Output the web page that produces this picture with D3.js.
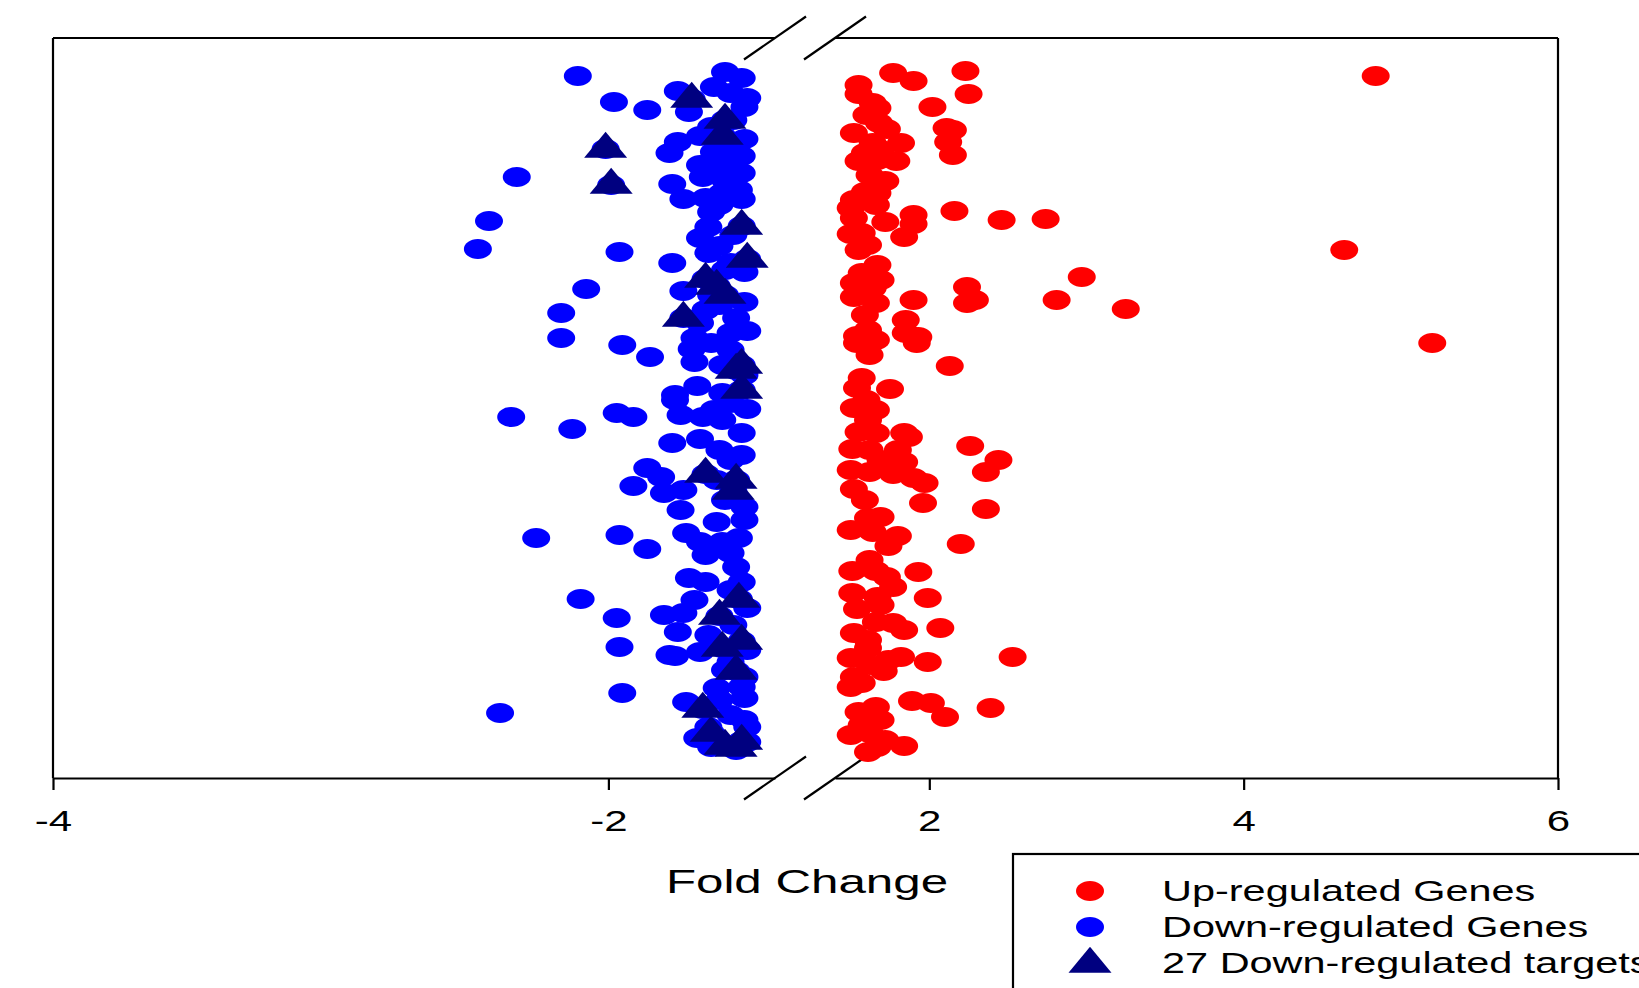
<!DOCTYPE html>
<html><head><meta charset="utf-8">
<script src="https://cdn.jsdelivr.net/npm/d3@7"></script>
<style>html,body{margin:0;padding:0;background:#fff;overflow:hidden}</style>
</head><body>
<script>
// ---- data (fold change, vertical position) ----
const upFC = [1.55,1.55,1.77,1.90,2.23,2.25,2.02,1.64,1.67,1.68,
1.73,1.52,1.82,1.64,1.59,1.55,1.79,1.67,2.11,2.15,
2.12,2.15,1.72,1.59,1.67,1.52,1.50,1.66,1.52,1.72,
1.90,1.90,1.84,1.50,1.57,1.55,2.16,2.46,2.74,4.84,
4.64,1.67,1.57,1.52,1.64,1.52,1.66,1.90,2.24,2.29,
2.24,2.97,2.81,3.25,1.85,1.54,1.61,1.66,1.54,1.85,
1.93,1.92,5.20,2.13,1.57,1.54,1.75,1.52,1.66,1.61,
1.55,1.66,1.84,1.87,2.26,1.51,1.62,1.80,1.84,2.44,
2.36,1.50,1.62,1.77,1.90,1.97,1.52,1.96,2.36,1.61,
1.69,1.50,1.64,1.80,1.74,2.20,1.51,1.66,1.73,1.77,
1.93,1.51,1.67,1.99,1.54,1.66,1.77,1.84,2.07,1.52,
1.61,1.61,1.50,1.74,1.82,1.99,2.53,1.71,1.52,1.57,
1.50,1.89,2.01,2.10,2.39,1.55,1.66,1.57,1.50,1.62,
1.72,1.84,1.61,1.67,1.60,1.69,1.62,1.61,1.69,1.59,
1.62,1.60,1.69,1.59,1.62,1.69,1.62,1.69];
const upY = [47,56,35,43,33,56,69,65,70,85,
91,95,105,105,115,123,123,122,90,92,
104,117,143,154,155,162,170,167,180,184,
177,186,199,196,195,212,173,182,181,38,
212,227,235,245,250,259,265,262,249,262,
265,239,262,271,282,298,292,302,305,295,
299,305,305,328,340,350,351,370,372,382,
394,395,395,399,408,411,412,412,424,422,
434,432,434,436,440,445,451,465,471,480,
479,492,494,498,508,506,533,533,539,549,
534,555,559,560,571,584,585,592,590,595,
602,610,620,622,619,624,619,633,639,645,
649,663,665,679,670,674,669,687,697,695,
702,708,714,709,77,112,137,207,242,277,
317,362,422,462,522,567,627,682];

const downFC = [-2.11,-1.98,-1.86,-1.75,-1.71,-2.33,-2.43,-2.47,-1.96,-1.77,
-2.08,-2.17,-2.17,-1.95,-1.85,-1.75,-1.78,-1.77,-1.73,-1.76,
-1.68,-1.58,-1.52,-1.62,-1.50,-1.51,-1.56,-1.63,-1.67,-1.51,
-1.62,-1.52,-1.67,-1.52,-1.66,-1.59,-1.58,-1.65,-1.52,-1.59,
-1.63,-1.64,-1.67,-1.60,-1.64,-1.51,-1.56,-1.73,-1.63,-1.51,
-1.65,-1.67,-1.54,-1.50,-1.56,-1.69,-1.63,-1.70,-1.69,-1.59,
-1.59,-1.76,-2.35,-2.13,-1.97,-1.91,-1.74,-1.66,-1.59,-1.50,
-1.56,-1.77,-1.67,-1.52,-1.60,-1.52,-1.86,-1.81,-1.91,-1.80,
-1.73,-1.74,-1.51,-1.61,-2.26,-1.96,-1.86,-1.61,-1.72,-1.67,
-1.59,-1.53,-1.65,-1.56,-1.54,-1.71,-1.65,-1.52,-1.69,-1.50,
-2.10,-1.97,-1.80,-1.73,-1.75,-1.96,-1.78,-1.67,-1.64,-1.50,
-1.56,-1.51,-1.61,-1.52,-1.51,-1.95,-2.39,-1.72,-1.56,-1.50,
-1.64,-1.68,-1.63,-1.54,-1.50,-1.76,-1.55,-1.56,-1.53,-1.60,
-1.55,-1.58,-1.60,-1.56,-1.51,-1.62,-1.56,-1.58,-1.51,-1.56,
-1.55,-1.58,-1.60,-1.51];
const downY = [38,64,72,53,74,139,183,211,214,225,
251,275,300,307,319,104,115,146,161,357,
348,34,40,49,60,69,55,89,98,101,
114,118,127,135,139,129,142,160,161,155,
174,189,200,208,215,234,225,253,257,264,
272,285,280,293,295,300,305,311,324,327,
355,362,379,391,375,379,377,379,382,371,
365,405,401,395,412,417,430,439,448,455,
452,472,469,442,500,497,511,484,495,504,
504,500,517,515,529,540,544,544,562,570,
561,580,577,575,594,609,617,614,597,612,
624,639,650,649,660,655,675,664,677,689,
689,700,709,712,704,618,82,112,152,167,
197,232,267,312,337,372,422,462,482,552,
587,632,662,682];

const targetFC = [-1.70,-1.58,-1.59,-2.01,-1.99,-1.52,-1.50,-1.65,-1.58,-1.61,-1.73,-1.52,-1.54,-1.52,
-1.65,-1.54,-1.55,-1.53,-1.60,-1.52,-1.59,-1.54,-1.66,-1.63,-1.52,-1.54,-1.58];
const targetY = [61,82,98,111,147,188,221,241,257,248,280,327,332,352,
436,442,453,561,578,603,610,633,671,695,703,710,708];

const leftTicks = [-4, -2];
const rightTicks = [2, 4, 6];
const legendLabels = ["Up-regulated Genes", "Down-regulated Genes", "27 Down-regulated targets"];
const xTitle = "Fold Change";

// ---- drawing ----
const W = 1639, H = 988, SX = 1.45;
const FONT = "'Liberation Sans', Arial, Helvetica, sans-serif";
const RED = "#ff0000", BLUE = "#0000ff", NAVY = "#000080";
const svg = d3.select("body").append("svg").attr("width", W).attr("height", H)
  .style("display","block");

const xL = d3.scaleLinear().domain([-4, -1.4]).range([53, 775]);
const xR = d3.scaleLinear().domain([1.4, 6]).range([835, 1558]);
const y = d3.scaleLinear().domain([0, 740]).range([38, 778]);
const yTop = y.range()[0], yBot = y.range()[1];
const LW = 2.2;

// frame
const frame = svg.append("g").attr("stroke", "#000").attr("stroke-width", LW).attr("fill", "none");
frame.append("line").attr("x1", xL.range()[0]).attr("x2", xL.range()[1]).attr("y1", yTop).attr("y2", yTop);
frame.append("line").attr("x1", xR.range()[0]).attr("x2", xR.range()[1]).attr("y1", yTop).attr("y2", yTop);
frame.append("line").attr("x1", xL.range()[0]).attr("x2", xL.range()[0]).attr("y1", yTop).attr("y2", yBot);
frame.append("line").attr("x1", xR.range()[1]).attr("x2", xR.range()[1]).attr("y1", yTop).attr("y2", yBot);

// axes
function styleAxis(g) {
  g.select(".domain").attr("stroke", "#000").attr("stroke-width", LW);
  g.selectAll(".tick line").attr("stroke", "#000").attr("stroke-width", LW);
  g.selectAll(".tick text")
    .attr("y", 0).attr("dy", 0)
    .attr("transform", `translate(0,53) scale(${SX},1)`)
    .attr("font-size", 29).attr("font-family", FONT).attr("fill", "#000");
}
svg.append("g").attr("transform", `translate(0,${yBot})`)
  .call(d3.axisBottom(xL).tickValues(leftTicks).tickSize(12).tickSizeOuter(0).tickFormat(d => String(d)))
  .call(styleAxis);
svg.append("g").attr("transform", `translate(0,${yBot})`)
  .call(d3.axisBottom(xR).tickValues(rightTicks).tickSize(12).tickSizeOuter(0).tickFormat(d => String(d)))
  .call(styleAxis);

// break marks
const breaks = [xL(-1.4), xR(1.4)];
breaks.forEach(bx => [yTop, yBot].forEach(by => {
  svg.append("line").attr("x1", bx - 31).attr("y1", by + 21.5).attr("x2", bx + 31).attr("y2", by - 21.5)
    .attr("stroke", "#000").attr("stroke-width", LW);
}));

// marks
const RX = 14, RY = 10;
const tri = "M0,-17.3L21.5,8.7L-21.5,8.7Z";
const downData = downFC.map((v, i) => ({ x: v, y: downY[i] }))
  .concat(targetFC.map((v, i) => ({ x: v, y: targetY[i] })));
const upData = upFC.map((v, i) => ({ x: v, y: upY[i] }));
const tData = targetFC.map((v, i) => ({ x: v, y: targetY[i] }));

svg.append("g").selectAll("ellipse").data(downData).join("ellipse")
  .attr("cx", d => xL(d.x)).attr("cy", d => y(d.y)).attr("rx", RX).attr("ry", RY).attr("fill", BLUE);
svg.append("g").selectAll("ellipse").data(upData).join("ellipse")
  .attr("cx", d => xR(d.x)).attr("cy", d => y(d.y)).attr("rx", RX).attr("ry", RY).attr("fill", RED);
svg.append("g").selectAll("path").data(tData).join("path")
  .attr("d", tri).attr("transform", d => `translate(${xL(d.x)},${y(d.y)})`).attr("fill", NAVY);

// x title
svg.append("text").text(xTitle)
  .attr("transform", `translate(807,893) scale(${SX},1)`)
  .attr("text-anchor", "middle").attr("font-size", 34).attr("font-family", FONT).attr("fill", "#000");

// legend
svg.append("rect").attr("x", 1013).attr("y", 854).attr("width", 800).attr("height", 300)
  .attr("fill", "none").attr("stroke", "#000").attr("stroke-width", LW);
const legY = [891, 927, 964];
const legBase = [901, 937, 973];
svg.append("ellipse").attr("cx", 1090).attr("cy", legY[0]).attr("rx", RX).attr("ry", RY).attr("fill", RED);
svg.append("ellipse").attr("cx", 1090).attr("cy", legY[1]).attr("rx", RX).attr("ry", RY).attr("fill", BLUE);
svg.append("path").attr("d", tri).attr("transform", `translate(1090,${legY[2]})`).attr("fill", NAVY);
legendLabels.forEach((t, i) => {
  svg.append("text").text(t)
    .attr("transform", `translate(1162,${legBase[i]}) scale(${SX},1)`)
    .attr("font-size", 28.6).attr("font-family", FONT).attr("fill", "#000");
});
</script>
</body></html>
